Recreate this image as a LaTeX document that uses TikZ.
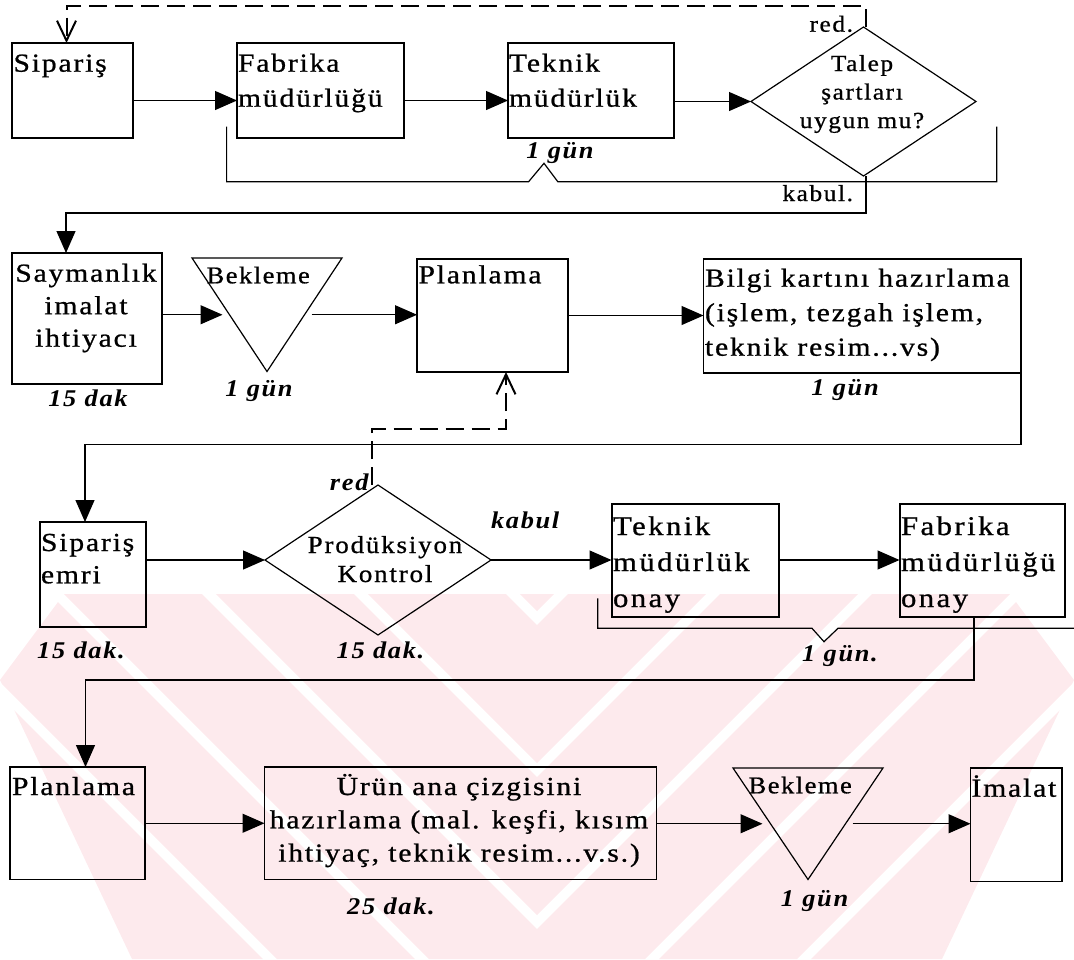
\documentclass[tikz,border=0pt]{standalone}
\usepackage{fontspec}
\setmainfont{Liberation Serif}
\newfontfamily\boxfont[FakeStretch=1.14,LetterSpace=7,FakeBold=0.8]{Liberation Serif}
\newfontfamily\onayfont[FakeStretch=1.14,LetterSpace=9,FakeBold=0.8]{Liberation Serif}
\newfontfamily\decfont[FakeStretch=1.1,LetterSpace=7,FakeBold=0.8]{Liberation Serif}
\newfontfamily\prodfont[FakeStretch=1.1,LetterSpace=7.5,FakeBold=0.8]{Liberation Serif}
\newfontfamily\waitfont[FakeStretch=1.1,LetterSpace=6.5,FakeBold=0.8]{Liberation Serif}
\newfontfamily\notefont[FakeStretch=1.1,LetterSpace=7]{Liberation Serif}
\usetikzlibrary{arrows.meta,calc,shapes.geometric}
\definecolor{wm}{RGB}{253,234,237}

\tikzset{
  line/.style={line width=1.2pt},
  box/.style={draw, line width=1.2pt, rectangle, inner sep=0pt, outer sep=0pt, anchor=north west},
  okbox/.style={box, line width=2pt},
  tri/.style={rectangle, inner sep=0pt, outer sep=0pt, anchor=north west},
  dec/.style={draw, diamond, line width=1.2pt, inner sep=0pt, outer sep=0pt},
  lbl/.style={inner sep=0pt, outer sep=0pt},
  big/.style={lbl, font=\fontsize{26}{#1}\boxfont},
  big/.default=34,
  onay/.style={lbl, font=\fontsize{27}{36}\onayfont},
  dect/.style={lbl, font=\fontsize{23}{28.5}\decfont},
  prodt/.style={lbl, font=\fontsize{24.5}{29}\prodfont},
  waitt/.style={lbl, font=\fontsize{24}{28}\waitfont},
  note/.style={lbl, font=\fontsize{24}{28}\notefont\bfseries\itshape},
  arr/.style={line width=1.2pt, -{Triangle[length=22pt,width=19pt]}},
  darr/.style={line width=2pt, dash pattern=on 18pt off 8pt,
    -{Straight Barb[length=20pt,width=19pt,line width=2pt]}},
}

\begin{document}
\begin{tikzpicture}[x=1pt,y=-1pt]
\useasboundingbox (0,0) rectangle (1074,959);

% faint striped emblem behind the lower half
\begin{scope}
  \clip (64,594) -- (1010,594) -- (1074,680) -- (942,959) -- (132,959) -- (0,680) -- cycle;
  \begin{scope}
    \clip (0,590) rectangle (537,960);
    \foreach \c in {-986,-834,-682,-530,-378,-226,-74,78} {
      \fill[wm] ({\c+594},594) -- ({\c+732},594) -- ({\c+1097},959) -- ({\c+959},959) -- cycle;
    }
  \end{scope}
  \begin{scope}
    \clip (537,590) rectangle (1074,960);
    \foreach \c in {-986,-834,-682,-530,-378,-226,-74,78} {
      \fill[wm] ({480-(\c)},594) -- ({342-(\c)},594) -- ({-23-(\c)},959) -- ({115-(\c)},959) -- cycle;
    }
  \end{scope}
\end{scope}

% ---------- row 1 ----------
\node[box, minimum width=121pt, minimum height=95pt] (sip) at (12,43) {};
\node[box, minimum width=167pt, minimum height=95pt] (fab1) at (237,43) {};
\node[box, minimum width=166pt, minimum height=95pt] (tek1) at (508,43) {};
\node[dec, minimum width=225pt, minimum height=149pt] (talep) at (863.5,101.5) {};

% multi-line labels are placed by the baseline of their last line
\node[big, anchor=base west] (sip-t) at (13.5,71.7) {Sipariş};
\node[big=35, anchor=base west, align=left] (fab1-t) at (238,106.7) {Fabrika\\müdürlüğü};
\node[big=35, anchor=base west, align=left] (tek1-t) at (509,106.7) {Teknik\\müdürlük};
\node[dect, anchor=base, align=center] (talep-t) at (862,128) {Talep\\şartları\\uygun mu?};
\node[dect, anchor=base east] (red1) at (853,31.7) {red.};
\node[dect, anchor=base east] (kabul1) at (853,201) {kabul.};
\node[note, anchor=base] (g1) at (560,158) {1 gün};

\draw[arr] ([yshift=-10pt]sip.east) -- ([yshift=-10pt]fab1.west);
\draw[arr] ([yshift=-10pt]fab1.east) -- ([yshift=-10pt]tek1.west);
\draw[arr] (talep.west -| tek1.east) -- (talep.west);
\draw[darr] ([xshift=2.5pt]talep.north) -- ++(0,-21) -| ([xshift=-6pt]sip.north);
\draw[line] (226.6,126.7) -- (226.6,181.7) -- (528.6,181.7) -- (544,163.3)
  -- (557.8,181.7) -- (996.7,181.7) -- (996.7,126.7);

% ---------- row 2 ----------
\node[box, minimum width=150pt, minimum height=131pt] (say) at (12,253) {};
\node[tri, minimum width=150pt, minimum height=113.5pt] (bek1) at (192,258) {};
\node[box, minimum width=151pt, minimum height=113pt] (plan1) at (417,259) {};
\node[box, minimum width=317.5pt, minimum height=114pt] (bilgi) at (703.5,259) {};
\draw[line] (bek1.north west) -- (bek1.north east) -- (bek1.south) -- cycle;
\coordinate (bek1in) at ($(bek1.north west)!0.5!(bek1.south)$);
\coordinate (bek1out) at ($(bek1.north east)!0.5!(bek1.south)$);

\node[big=32.5, anchor=base, align=center] (say-t) at (86,346.7) {Saymanlık\\imalat\\ihtiyacı};
\node[note, anchor=base] (say-d) at (88,406.7) {15 dak};
\node[waitt, anchor=base west] (bek1-t) at (206.6,283.3) {Bekleme};
\node[note, anchor=base] (bek1-d) at (259,396) {1 gün};
\node[big, anchor=base west] (plan1-t) at (418.5,283.3) {Planlama};
\node[big=34.5, anchor=base west, align=left] (bilgi-t) at (705,355.7)
  {Bilgi kartını hazırlama\\(işlem, tezgah işlem,\\teknik resim...vs)};
\node[note, anchor=base] (bilgi-d) at (845,395) {1 gün};

\draw[arr] ([xshift=2.5pt]talep.south) -- ++(0,37) -| ([xshift=-21pt]say.north);
\draw[arr, shorten >=7pt] (say.east |- bek1in) -- (bek1in);
\draw[arr, shorten <=7pt] (bek1out) -- (bek1out -| plan1.west);
\draw[arr] (plan1.east) -- (plan1.east -| bilgi.west);

% ---------- row 3 ----------
\node[box, minimum width=106pt, minimum height=105pt] (semri) at (40,522) {};
\node[dec, minimum width=226pt, minimum height=150pt] (prod) at (378,560) {};
\node[okbox, minimum width=167.5pt, minimum height=113pt] (tek2) at (611.5,504) {};
\node[okbox, minimum width=165pt, minimum height=113pt] (fab2) at (899.5,504) {};

\node[big=32.3, anchor=base west, align=left] (semri-t) at (41,583.3) {Sipariş\\emri};
\node[prodt, anchor=base, align=center] (prod-t) at (385,582) {Prodüksiyon\\Kontrol};
\node[note, anchor=base east] (red2) at (368.5,490) {red};
\node[note, anchor=base west] (kabul2) at (491,528) {kabul};
\node[note, anchor=base] (semri-d) at (81,658.5) {15 dak.};
\node[note, anchor=base] (prod-d) at (380.5,658.5) {15 dak.};
\node[onay, anchor=base west, align=left] (tek2-t) at (613,607) {Teknik\\müdürlük\\onay};
\node[onay, anchor=base west, align=left] (fab2-t) at (901,607) {Fabrika\\müdürlüğü\\onay};
\node[note, anchor=base] (g2) at (840,661.7) {1 gün.};

\draw[arr] (bilgi.south east) -- ++(0,71.5) -| ([xshift=-8pt]semri.north);
\draw[arr] (prod.west -| semri.east) -- (prod.west);
\draw[arr] (prod.east) -- (prod.east -| tek2.west);
\draw[arr] (tek2.east |- prod.east) -- (prod.east -| fab2.west);
\draw[darr] ([xshift=-6pt]prod.north) -- ++(0,-56.5) -| ([xshift=13.5pt]plan1.south);
\draw[line] (597.7,598.3) -- (597.7,628.3) -- (812,628.3) -- (824,641.7)
  -- (838,628.3) -- (1074,628.3);

% ---------- row 4 ----------
\node[box, minimum width=135pt, minimum height=112.5pt] (plan2) at (10,767) {};
\node[box, minimum width=392pt, minimum height=112.5pt] (urun) at (264.5,767) {};
\node[tri, minimum width=150pt, minimum height=111.5pt] (bek2) at (733,768) {};
\node[box, minimum width=91.5pt, minimum height=113.5pt] (imalat) at (970.5,768) {};
\draw[line] (bek2.north west) -- (bek2.north east) -- (bek2.south) -- cycle;
\coordinate (bek2in) at ($(bek2.north west)!0.5!(bek2.south)$);
\coordinate (bek2out) at ($(bek2.north east)!0.5!(bek2.south)$);

\node[big, anchor=base west] (plan2-t) at (12,795) {Planlama};
\node[big=33.3, anchor=base, align=center] (urun-t) at (459,861.6)
  {Ürün ana çizgisini\\hazırlama (mal. keşfi, kısım\\ihtiyaç, teknik resim...v.s.)};
\node[note, anchor=base] (urun-d) at (391,914) {25 dak.};
\node[waitt, anchor=base west] (bek2-t) at (748.6,793.3) {Bekleme};
\node[note, anchor=base] (bek2-d) at (814.5,906.7) {1 gün};
\node[big, anchor=base west] (imalat-t) at (971.5,796.7) {İmalat};

\draw[arr] ([xshift=-8pt]fab2.south) -- ++(0,63) -| ([xshift=8pt]plan2.north);
\draw[arr] (plan2.east) -- (plan2.east -| urun.west);
\draw[arr, shorten >=8pt] (urun.east |- bek2in) -- (bek2in);
\draw[arr, shorten <=7pt] (bek2out) -- (bek2out -| imalat.west);

\end{tikzpicture}
\end{document}
